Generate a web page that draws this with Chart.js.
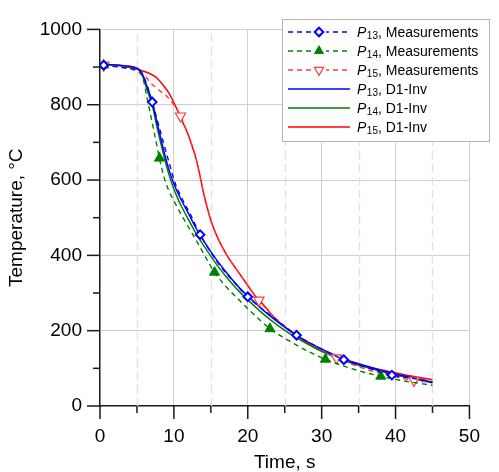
<!DOCTYPE html>
<html><head><meta charset="utf-8">
<script src="https://cdn.jsdelivr.net/npm/chart.js@4/dist/chart.umd.min.js"></script>
<style>html,body{margin:0;padding:0;background:#fff}</style>
</head><body>
<canvas id="c" width="499" height="472" style="display:block;width:499px;height:472px"></canvas>
<script>
// ---- Data ----
// P13, Measurements
const time13m = [0.5, 3, 5, 5.7, 6.4, 7.07, 7.8, 8.6, 9.3, 10.2, 11.2, 12.2, 13.55, 15, 16.5, 18, 20, 22, 24, 26.6, 29.5, 33, 36, 39.5, 42.5, 45];
const temp13m = [905, 899, 893, 883, 850, 807, 756, 698, 650, 590, 547, 510, 455, 408, 366, 332, 290, 257, 227, 188, 156, 123, 103, 82, 73, 64];
const markers13 = [0.5, 7.07, 13.55, 20, 26.6, 33, 39.5];
// P14, Measurements
const time14m = [0.5, 3, 5, 5.8, 6.4, 7.3, 8.05, 8.6, 9.3, 10, 11, 12.4, 13.5, 14.5, 15.5, 17.1, 19, 21, 23, 25, 27.5, 30.5, 33, 35.5, 38, 41, 45];
const temp14m = [905, 899, 888, 871, 815, 730, 658, 612, 572, 545, 508, 461, 423, 388, 355, 316, 278, 240, 205, 180, 152, 124, 106, 91, 79, 67, 55];
const markers14 = [0.5, 8.05, 15.5, 23, 30.5, 38];
// P15, Measurements
const time15m = [0.5, 3, 5, 6, 6.85, 8.1, 9.4, 10.9, 12, 13, 14, 15, 16.5, 18.5, 20, 21.5, 24, 26.6, 29.5, 32, 35, 38.5, 42.5, 44.5];
const temp15m = [905, 900, 893, 879, 858, 837, 815, 770, 717, 657, 567, 493, 424, 362, 320, 281, 228, 190, 155, 128, 104, 84, 68, 63];
const markers15 = [0.5, 10.9, 21.5, 32, 42.5];
// D1-Inv curves
const timeInv = [0, 3, 5, 5.6, 6.4, 7.1, 7.7, 8.5, 9, 9.5, 10, 10.5, 11, 12, 13, 14, 15, 16, 17, 18, 19, 20, 22, 24, 26.5, 29.5, 33, 36.5, 40, 42.5, 45];
const temp13inv = [908, 904, 897, 887, 846, 806, 754, 688, 650, 617, 590, 567, 547, 510, 472, 440, 410, 382, 357, 333, 311, 292, 256, 224, 189, 156, 125, 103, 85, 75, 63];
const temp14inv = [907, 903, 896, 884, 838, 796, 742, 676, 637, 604, 576, 552, 531, 494, 458, 427, 398, 370, 345, 322, 301, 282, 246, 215, 182, 150, 121, 100, 82, 72, 61];
const time15inv = [0, 3, 5, 6.5, 7.7, 8.5, 9.4, 10, 10.5, 11, 11.5, 12, 12.5, 13, 13.5, 14, 14.5, 15, 15.6, 16.5, 17.5, 18.5, 20, 21, 22.3, 23.3, 24.4, 25.5, 26.6, 28, 29.6, 32, 35, 38, 41, 45];
const temp15inv = [908, 903, 894, 885, 871, 853, 829, 805, 785, 762, 740, 717, 688, 657, 615, 567, 528, 493, 461, 424, 390, 362, 320, 292, 265, 241, 220, 203, 188, 168, 149, 130, 112, 96, 84, 70];
// Axis ticks
const xMajorTicks = [0, 10, 20, 30, 40, 50];
const xMinorTicks = [5, 15, 25, 35, 45];
const yMajorTicks = [0, 200, 400, 600, 800, 1000];
const yMinorTicks = [100, 300, 500, 700, 900];
const legendLabels = [
  {sub: '13', rest: ', Measurements'},
  {sub: '14', rest: ', Measurements'},
  {sub: '15', rest: ', Measurements'},
  {sub: '13', rest: ', D1-Inv'},
  {sub: '14', rest: ', D1-Inv'},
  {sub: '15', rest: ', D1-Inv'}
];

const FONT = "'Liberation Sans', Arial, sans-serif";
const BLUE = '#0000ff', GREEN = '#008000', RED = '#ff0000', RED_D = '#ff3b3b';

function pts(t, v) { return t.map((x, i) => ({x: x, y: v[i]})); }
function markR(list, r) { return ctx => (ctx.raw && list.indexOf(ctx.raw.x) >= 0) ? r : 0; }

const datasets = [
  {label: 'P13, Measurements', data: pts(time13m, temp13m), borderColor: BLUE, borderWidth: 1.4, borderDash: [5, 4],
   pointStyle: 'rectRot', pointRadius: markR(markers13, 4.3), pointBorderWidth: 2, pointBorderColor: BLUE, pointBackgroundColor: '#fff'},
  {label: 'P14, Measurements', data: pts(time14m, temp14m), borderColor: GREEN, borderWidth: 1.4, borderDash: [5, 4],
   pointStyle: 'triangle', pointRadius: markR(markers14, 5.8), pointBorderWidth: 1, pointBorderColor: GREEN, pointBackgroundColor: GREEN},
  {label: 'P15, Measurements', data: pts(time15m, temp15m), borderColor: RED_D, borderWidth: 1.4, borderDash: [5, 4],
   pointStyle: 'triangle', pointRotation: 180, pointRadius: markR(markers15, 6), pointBorderWidth: 1.2, pointBorderColor: RED_D, pointBackgroundColor: '#fff'},
  {label: 'P13, D1-Inv', data: pts(timeInv, temp13inv), borderColor: BLUE, borderWidth: 1.5, pointRadius: 0},
  {label: 'P14, D1-Inv', data: pts(timeInv, temp14inv), borderColor: GREEN, borderWidth: 1.5, pointRadius: 0},
  {label: 'P15, D1-Inv', data: pts(time15inv, temp15inv), borderColor: RED, borderWidth: 1.5, pointRadius: 0}
];
datasets.forEach(d => { d.showLine = true; d.fill = false; d.cubicInterpolationMode = 'monotone'; d.pointHoverRadius = 0; });

const decor = {
  id: 'decor',
  beforeDatasetsDraw(chart) {
    const c = chart.ctx, a = chart.chartArea, xs = chart.scales.x;
    c.save();
    c.strokeStyle = '#e2e2e2'; c.lineWidth = 1.5; c.setLineDash([8, 5]);
    xMinorTicks.forEach(v => {
      const px = Math.round(xs.getPixelForValue(v)) + 0.5;
      c.beginPath(); c.moveTo(px, a.bottom); c.lineTo(px, a.top); c.stroke();
    });
    c.restore();
  },
  afterDraw(chart) {
    const c = chart.ctx, a = chart.chartArea, xs = chart.scales.x, ys = chart.scales.y;
    c.save();
    c.strokeStyle = '#1a1a1a'; c.lineWidth = 1.5;
    xMajorTicks.concat(xMinorTicks).forEach(v => {
      const px = xs.getPixelForValue(v), len = xMajorTicks.indexOf(v) >= 0 ? 13 : 7;
      c.beginPath(); c.moveTo(px, a.bottom); c.lineTo(px, a.bottom + len); c.stroke();
    });
    yMajorTicks.concat(yMinorTicks).forEach(v => {
      const py = ys.getPixelForValue(v), len = yMajorTicks.indexOf(v) >= 0 ? 13 : 7;
      c.beginPath(); c.moveTo(a.left, py); c.lineTo(a.left - len, py); c.stroke();
    });
    // legend box
    const bx = 282.5, by = 19.5, bw = 207, bh = 122;
    c.fillStyle = '#fff'; c.fillRect(bx, by, bw, bh);
    c.strokeStyle = '#b4b4b4'; c.lineWidth = 1; c.strokeRect(bx, by, bw, bh);
    const rowY = [32, 51, 70, 89, 108, 127];
    datasets.forEach((d, i) => {
      const y = rowY[i];
      c.save();
      c.strokeStyle = d.borderColor; c.lineWidth = d.borderWidth;
      c.setLineDash(d.borderDash || []);
      c.beginPath(); c.moveTo(288, y); c.lineTo(350, y); c.stroke();
      c.restore();
      if (i < 3) {
        const mx = 319, r = i === 0 ? 4.3 : (i === 1 ? 5.2 : 5.4);
        c.save();
        c.fillStyle = '#fff'; c.fillRect(mx - 7, y - 7, 14, 14);
        c.beginPath();
        if (i === 0) {
          c.moveTo(mx - r, y); c.lineTo(mx, y - r); c.lineTo(mx + r, y); c.lineTo(mx, y + r); c.closePath();
          c.fillStyle = '#fff'; c.fill(); c.strokeStyle = BLUE; c.lineWidth = 2; c.stroke();
        } else if (i === 1) {
          c.moveTo(mx, y - r); c.lineTo(mx + r * 0.866, y + r / 2); c.lineTo(mx - r * 0.866, y + r / 2); c.closePath();
          c.fillStyle = GREEN; c.fill(); c.strokeStyle = GREEN; c.lineWidth = 1; c.stroke();
        } else {
          c.moveTo(mx, y + r); c.lineTo(mx + r * 0.866, y - r / 2); c.lineTo(mx - r * 0.866, y - r / 2); c.closePath();
          c.fillStyle = '#fff'; c.fill(); c.strokeStyle = RED_D; c.lineWidth = 1.2; c.stroke();
        }
        c.restore();
      }
      const lb = legendLabels[i];
      let x = 357; const base = y + 5;
      c.fillStyle = '#000'; c.textBaseline = 'alphabetic'; c.textAlign = 'left';
      c.font = 'italic 14px ' + FONT; c.fillText('P', x, base); x += c.measureText('P').width + 0.5;
      c.font = '10px ' + FONT; c.fillText(lb.sub, x, base + 1.5); x += c.measureText(lb.sub).width;
      c.font = '14px ' + FONT; c.fillText(lb.rest, x, base);
    });
    c.restore();
  }
};

new Chart(document.getElementById('c'), {
  type: 'scatter',
  data: {datasets: datasets},
  options: {
    responsive: false, animation: false, events: [],
    layout: {padding: {top: 17, right: 11, left: 0, bottom: 0}},
    plugins: {legend: {display: false}, tooltip: {enabled: false}},
    scales: {
      x: {
        type: 'linear', min: 0, max: 50,
        afterFit: s => { s.height = 66; },
        afterBuildTicks: s => { s.ticks = xMajorTicks.map(v => ({value: v})); },
        ticks: {font: {size: 19, family: FONT}, color: '#000', padding: 19, maxRotation: 0, callback: v => String(v)},
        grid: {drawTicks: false, color: c => (c.tick && c.tick.value !== 0) ? '#cfcfcf' : 'rgba(0,0,0,0)', lineWidth: 1},
        border: {display: true, color: '#1a1a1a', width: 1.5},
        title: {display: true, text: 'Time, s', font: {size: 19, family: FONT, lineHeight: 1}, color: '#000', padding: {top: 0, bottom: 0}}
      },
      y: {
        type: 'linear', min: 0, max: 1000,
        afterFit: s => { s.width = 100; },
        afterBuildTicks: s => { s.ticks = yMajorTicks.map(v => ({value: v})); },
        ticks: {font: {size: 19, family: FONT}, color: '#000', padding: 18, callback: v => String(v)},
        grid: {drawTicks: false, color: c => (c.tick && c.tick.value !== 0) ? '#cfcfcf' : 'rgba(0,0,0,0)', lineWidth: 1},
        border: {display: true, color: '#1a1a1a', width: 1.5},
        title: {display: true, text: 'Temperature, °C', font: {size: 19, family: FONT, lineHeight: 1}, color: '#000', padding: {top: 7.5, bottom: 0}}
      }
    }
  },
  plugins: [decor]
});
</script>
</body></html>
